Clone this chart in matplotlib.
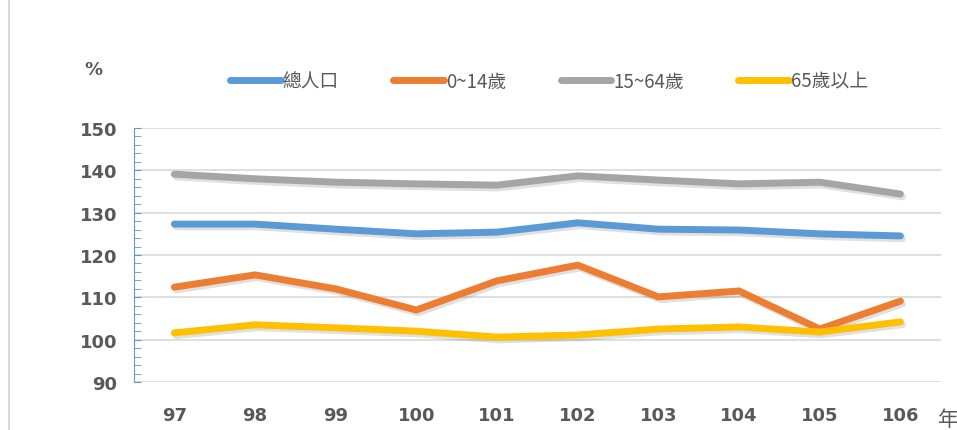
import matplotlib.pyplot as plt
import matplotlib.patheffects as pe
from matplotlib.ticker import MultipleLocator

plt.rcParams['font.family'] = ['Noto Sans CJK TC', 'DejaVu Sans']

# 民國年
years = ['97', '98', '99', '100', '101', '102', '103', '104', '105', '106']
total = [127.3, 127.3, 126.1, 125.0, 125.4, 127.6, 126.1, 125.9, 125.0, 124.5]
age_0_14 = [112.4, 115.3, 112.0, 107.0, 113.9, 117.6, 110.1, 111.5, 102.5, 109.1]
age_15_64 = [139.1, 138.0, 137.2, 136.8, 136.5, 138.7, 137.7, 136.8, 137.2, 134.4]
age_65 = [101.6, 103.5, 102.8, 102.0, 100.6, 101.1, 102.5, 103.0, 101.8, 104.2]

series = [
    ('總人口', total, '#5b9bd5'),
    ('0~14歲', age_0_14, '#ed7d31'),
    ('15~64歲', age_15_64, '#a5a5a5'),
    ('65歲以上', age_65, '#ffc000'),
]

fig = plt.figure(figsize=(9.57, 4.31), dpi=100)
ax = fig.add_axes([0.140, 0.1114, 0.843, 0.5893])

x = range(len(years))
shadow = [pe.SimpleLineShadow(offset=(1.5, -2), alpha=0.12, shadow_color='black'), pe.Normal()]
for name, vals, col in series:
    ax.plot(x, vals, color=col, lw=5, label=name, solid_capstyle='round',
            solid_joinstyle='miter', path_effects=shadow)

ax.set_xlim(-0.5, len(years) - 0.5)
ax.set_ylim(90, 150)
ax.yaxis.set_major_locator(MultipleLocator(10))
ax.yaxis.set_minor_locator(MultipleLocator(2))
ax.grid(axis='y', color='#d9d9d9', lw=1.2)
ax.set_axisbelow(True)

ax.set_xticks(list(x))
ax.set_xticklabels(years)
for s in ['top', 'right', 'bottom']:
    ax.spines[s].set_visible(False)
ax.spines['left'].set_color('#5b9bd5')
ax.tick_params(axis='y', which='both', direction='in', length=5, color='#5b9bd5',
               labelsize=13, labelcolor='#595959', pad=12)
ax.tick_params(axis='x', length=0, labelsize=13, labelcolor='#595959', pad=17)
for t in ax.get_xticklabels() + ax.get_yticklabels():
    t.set_fontweight('bold')
    t.set_family('DejaVu Sans')

fig.text(93 / 957, 1 - 70 / 431, '%', ha='center', va='center', fontsize=13,
         fontweight='bold', color='#595959', family='DejaVu Sans')
fig.text(948 / 957, 1 - 420 / 431, '年', ha='center', va='center', fontsize=15,
         color='#595959')

leg = fig.legend(loc='center', bbox_to_anchor=(549 / 957, 1 - 82 / 431), ncol=4,
                 frameon=False, fontsize=13.5, handlelength=2.7, handletextpad=0.1,
                 columnspacing=2.9, labelcolor='#595959')
for h in leg.get_lines():
    h.set_path_effects([])
    h.set_linewidth(5)

# chart border on the left
fig.add_artist(plt.Line2D([9 / 957, 9 / 957], [0, 1], color='#d9d9d9', lw=1.5,
                          transform=fig.transFigure))

fig.savefig('out.png', dpi=100)
